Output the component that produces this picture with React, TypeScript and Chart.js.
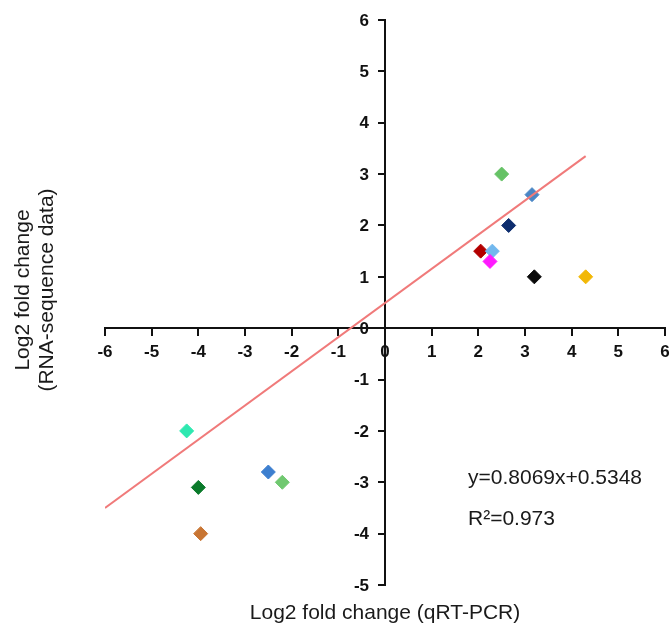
import React, { useEffect, useRef } from 'react';
import { Chart, registerables } from 'chart.js';

Chart.register(...registerables);

// qRT-PCR log2 fold change (x) vs RNA-seq log2 fold change (y)
const xValues = [2.5, 3.15, 2.65, 2.05, 2.3, 2.25, 3.2, 4.3, -4.25, -2.5, -2.2, -4.0, -3.95];
const yValues = [3.0, 2.6, 2.0, 1.5, 1.5, 1.3, 1.0, 1.0, -2.0, -2.8, -3.0, -3.1, -4.0];
const pointColors = [
  '#66c266', '#4a86c5', '#0d2d6e', '#b30000', '#72b8ee', '#ff1aff', '#0a0a0a',
  '#f2b807', '#2ee8b0', '#3d7fcf', '#70c870', '#0a7a2a', '#c87533',
];

// trend line end points as drawn
const trendX = [-6, 4.3];
const trendY = [-3.5, 3.35];

const xMin = -6;
const xMax = 6;
const yMin = -5;
const yMax = 6;

const xTitle = 'Log2 fold change (qRT-PCR)';
const yTitleLines = ['Log2 fold change', '(RNA-sequence data)'];
const equationText = 'y=0.8069x+0.5348';
const r2Text = 'R\u00b2=0.973';

const FONT = '"Liberation Sans", Arial, Helvetica, sans-serif';
const TICK_SIZE = 17;
const TICK_FONT = `bold ${TICK_SIZE}px ${FONT}`;

const tickLabelPlugin = {
  id: 'tickLabels',
  afterDraw(chart: any) {
    const ctx = chart.ctx;
    const ys = chart.scales.y;
    const xs = chart.scales.x;
    const x0 = xs.getPixelForValue(0);
    const y0 = ys.getPixelForValue(0);
    ctx.save();
    ctx.fillStyle = '#111';
    ctx.font = TICK_FONT;
    ctx.textBaseline = 'middle';
    ctx.textAlign = 'right';
    for (const t of ys.ticks) {
      ctx.fillText(String(t.label ?? t.value), x0 - 16, ys.getPixelForValue(t.value) + 1);
    }
    ctx.textAlign = 'center';
    for (const t of xs.ticks) {
      ctx.fillText(String(t.label ?? t.value), xs.getPixelForValue(t.value), y0 + 24);
    }
    ctx.restore();
  },
};

const textPlugin = {
  id: 'extraTexts',
  afterDraw(chart: any) {
    const ctx = chart.ctx;
    ctx.save();
    ctx.fillStyle = '#1a1a1a';
    ctx.font = `21px ${FONT}`;
    ctx.textAlign = 'center';
    ctx.textBaseline = 'middle';
    ctx.fillText(xTitle, 385, 613);

    ctx.save();
    ctx.translate(23, 290);
    ctx.rotate(-Math.PI / 2);
    ctx.fillText(yTitleLines[0], 0, 0);
    ctx.fillText(yTitleLines[1], 0, 24);
    ctx.restore();

    ctx.textAlign = 'left';
    ctx.font = `21px ${FONT}`;
    ctx.fillText(equationText, 468, 478);
    ctx.fillText(r2Text, 468, 519);
    ctx.restore();
  },
};

export default function App() {
  const canvasRef = useRef<HTMLCanvasElement | null>(null);

  useEffect(() => {
    document.body.style.margin = '0';
    const canvas = canvasRef.current;
    if (!canvas) return;
    const points = xValues.map((x, i) => ({ x, y: yValues[i] }));
    const trend = trendX.map((x, i) => ({ x, y: trendY[i] }));

    const chart = new Chart(canvas, {
      type: 'scatter',
      data: {
        datasets: [
          {
            label: 'genes',
            data: points,
            pointStyle: 'rectRot',
            pointRadius: 7,
            pointHoverRadius: 7,
            backgroundColor: pointColors,
            borderColor: pointColors,
            borderWidth: 1,
            order: 2,
          },
          {
            label: 'trend',
            data: trend,
            showLine: true,
            borderColor: '#f07a7a',
            borderWidth: 2,
            pointRadius: 0,
            pointHoverRadius: 0,
            order: 1,
          },
        ],
      },
      options: {
        animation: false,
        responsive: true,
        maintainAspectRatio: false,
        layout: { autoPadding: false, padding: { left: 105, right: 7, top: 20, bottom: 45 } },
        plugins: {
          legend: { display: false },
          tooltip: { enabled: false },
        },
        scales: {
          x: {
            type: 'linear',
            min: xMin,
            max: xMax,
            position: { y: 0 },
            grid: {
              drawOnChartArea: false,
              drawTicks: true,
              tickLength: 7,
              color: '#111',
              lineWidth: 2,
            },
            border: { display: true, color: '#111', width: 2 },
            ticks: {
              stepSize: 1,
              display: false,
            },
          },
          y: {
            type: 'linear',
            min: yMin,
            max: yMax,
            position: { x: 0 },
            grid: {
              drawOnChartArea: false,
              drawTicks: true,
              tickLength: 6,
              color: '#111',
              lineWidth: 2,
            },
            border: { display: true, color: '#111', width: 2 },
            ticks: {
              stepSize: 1,
              display: false,
            },
          },
        },
      },
      plugins: [tickLabelPlugin, textPlugin],
    });
    return () => chart.destroy();
  }, []);

  return (
    <div style={{ position: 'relative', width: 672, height: 630 }}>
      <canvas ref={canvasRef} />
    </div>
  );
}
